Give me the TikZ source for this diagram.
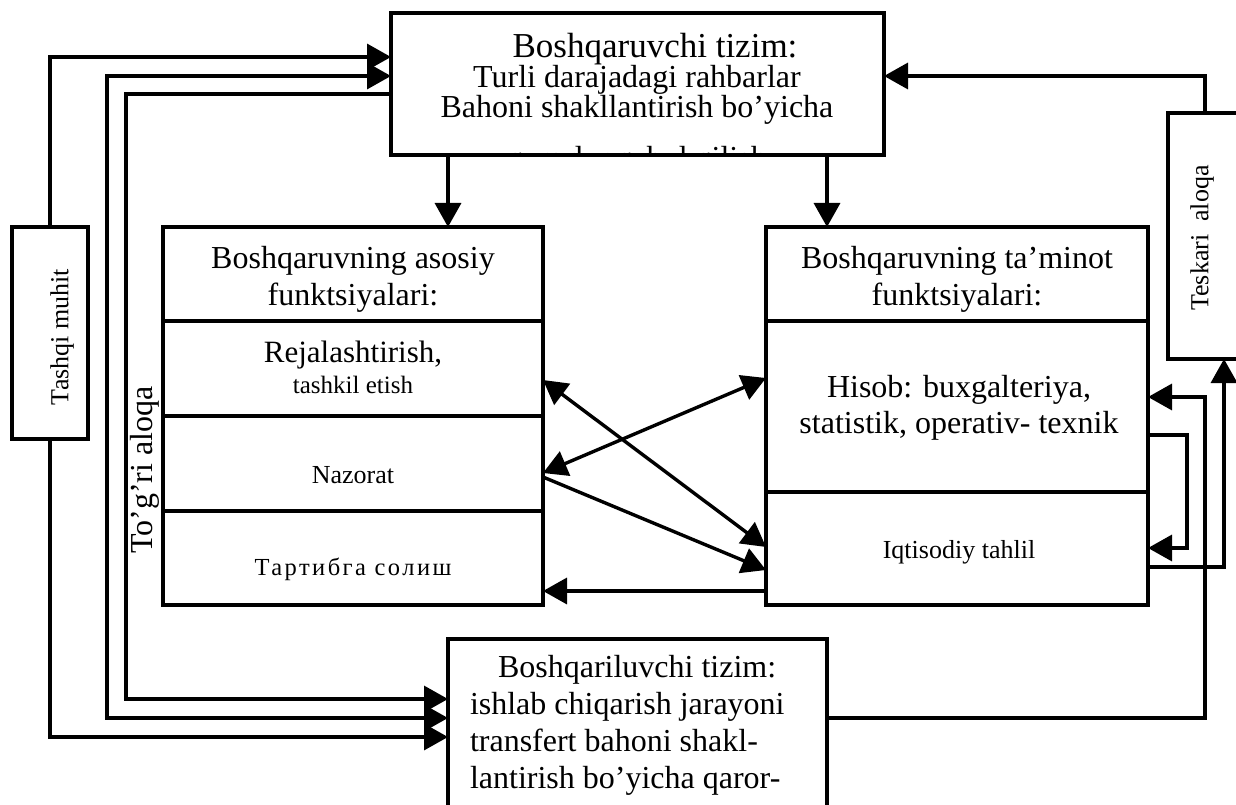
\documentclass[tikz,border=0pt]{standalone}
\usepackage{fontspec}
\setmainfont{Liberation Serif}
\newfontfamily\cyrfont{Liberation Serif}[LetterSpace=10]
\usetikzlibrary{arrows.meta}
\begin{document}
\begin{tikzpicture}[x=1pt,y=-1pt,
  box/.style={draw, line width=3.4pt, inner sep=0pt, outer sep=0pt, anchor=north west},
  link/.style={line width=3.4pt},
  arr/.style={link, -{Triangle[length=24pt,width=26pt]}},
  dbl/.style={link, {Triangle[length=24pt,width=26pt]}-{Triangle[length=24pt,width=26pt]}},
  txt/.style={inner sep=0pt, outer sep=0pt, anchor=base, align=center},
  big/.style={font=\fontsize{32}{37}\selectfont},
  mid/.style={font=\fontsize{26}{30}\selectfont},
  small/.style={font=\fontsize{25}{29}\selectfont},
]
\fill[white] (0,0) rectangle (1236,805);
\useasboundingbox (0,0) rectangle (1236,805);

% ---- boxes ----
\node[box, minimum width=493pt, minimum height=142pt] (top) at (391,13) {};
\node[box, minimum width=380pt, minimum height=94pt]  (lhead) at (163,227) {};
\node[box, minimum width=380pt, minimum height=95pt]  (lplan) at (163,321) {};
\node[box, minimum width=380pt, minimum height=95pt]  (lctrl) at (163,416) {};
\node[box, minimum width=380pt, minimum height=94pt]  (lreg)  at (163,511) {};
\node[box, minimum width=382pt, minimum height=94pt]  (rhead) at (766,227) {};
\node[box, minimum width=382pt, minimum height=171pt] (racc)  at (766,321) {};
\node[box, minimum width=382pt, minimum height=113pt] (ranal) at (766,492) {};
\node[box, minimum width=76pt,  minimum height=212pt] (tashqi) at (12,227) {};
\node[box, minimum width=80pt,  minimum height=246pt] (tesk)  at (1168,113) {};
\node[box, minimum width=379pt, minimum height=200pt] (bot)   at (448,639) {};

% ---- texts (multi-line nodes are placed by the baseline of their last line) ----
\node[txt, font=\fontsize{35}{38}\selectfont] (t-top1) at (655,58) {Boshqaruvchi tizim:};
\node[txt, font=\fontsize{32}{30}\selectfont] (t-top) at (637,118)
  {Turli darajadagi rahbarlar\\Bahoni shakllantirish bo’yicha};
\begin{scope}
  \clip (393,15) rectangle (882,153);
  \node[txt, big] (t-top4) at (637,169) {qarorlar qabul qilish};
\end{scope}
\node[txt, big] (t-lhead) at (353,305) {Boshqaruvning asosiy\\funktsiyalari:};
\node[txt, font=\fontsize{31}{35}\selectfont] (t-plan1) at (353,362) {Rejalashtirish,};
\node[txt, small] (t-plan2) at (353,393) {tashkil etish};
\node[txt, mid] (t-ctrl) at (353,483) {Nazorat};
\node[txt, font=\fontsize{24.5}{28}\cyrfont] (t-reg) at (353,575) {Тартибга солиш};
\node[txt, big] (t-rhead) at (957,305) {Boshqaruvning ta’minot\\funktsiyalari:};
\node[txt, font=\fontsize{32}{36}\selectfont] (t-acc) at (959,433) {Hisob: buxgalteriya,\\statistik, operativ- texnik};
\node[txt, mid] (t-anal) at (959,558) {Iqtisodiy tahlil};
\node[txt, font=\fontsize{32}{36.7}\selectfont, align=left, anchor=base west] (t-bot) at (470,788)
  {\hspace*{28pt}Boshqariluvchi tizim:\\ishlab chiqarish jarayoni\\transfert bahoni shakl-\\lantirish bo’yicha qaror-};
\node[inner sep=0pt, mid, rotate=90] (t-tashqi) at (62,337) {Tashqi muhit};
\node[inner sep=0pt, mid, rotate=90] (t-tesk) at (1202,238) {Teskari\ \ aloqa};
\node[inner sep=0pt, big, rotate=90] (t-direct) at (145,470) {To’g’ri aloqa};

% ---- bus coordinates ----
\coordinate (busB) at (107,400);
\coordinate (busC) at (126,400);
\coordinate (busR) at (1205,550);
\coordinate (loopR) at (1187,490);
\coordinate (dL) at ([xshift=57pt]top.south west);
\coordinate (dR) at ([xshift=436pt]top.south west);

% ---- external environment links ----
\draw[arr] (tashqi.north) |- ([yshift=-44pt]top.north west);
\draw[arr] (tashqi.south) |- ([yshift=-98pt]bot.north west);
\draw[dbl] ([yshift=-63pt]top.north west) -| (busB) |- ([yshift=-79pt]bot.north west);
\draw[arr] ([yshift=-81pt]top.north west) -| (busC) |- ([yshift=-60pt]bot.north west);

% ---- control down ----
\draw[arr] (dL) -- (dL |- lhead.north);
\draw[arr] (dR) -- (dR |- rhead.north);

% ---- between function blocks ----
\draw[dbl] ([yshift=-59pt]lplan.north east) -- ([yshift=-55pt]ranal.north west);
\draw[dbl] ([yshift=-57pt]racc.north west) -- ([yshift=-57pt]lctrl.north east);
\draw[arr] ([yshift=-61pt]lctrl.north east) -- ([yshift=-78pt]ranal.north west);
\draw[arr] ([yshift=-99pt]ranal.north west) -- ([yshift=-80pt]lreg.north east);

% ---- feedback ----
\draw[arr] ([xshift=37pt]tesk.north west) |- ([yshift=-63pt]top.north east);
\draw[arr] ([yshift=-79pt]bot.north east) -| (busR) |- ([yshift=-76pt]racc.north east);
\draw[arr] ([yshift=-114pt]racc.north east) -| (loopR) |- ([yshift=-56pt]ranal.north east);
\draw[arr] ([yshift=-75pt]ranal.north east) -| ([xshift=56pt]tesk.south west);
\end{tikzpicture}
\end{document}
